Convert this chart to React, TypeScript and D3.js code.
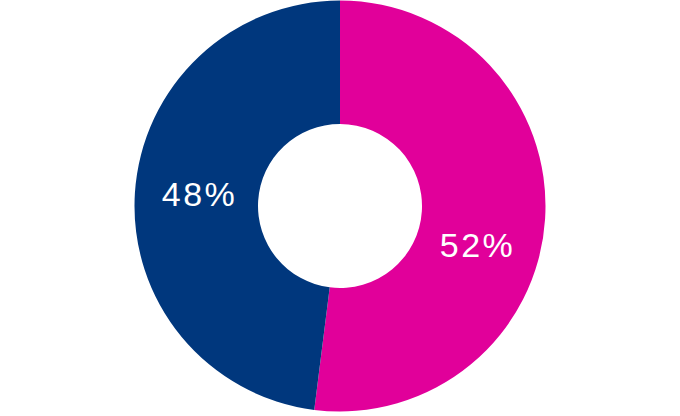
import React from "react";
import * as d3 from "d3";

const labels = ["52%", "48%"];
const values = [52, 48];
const colors = ["#e1009a", "#00377d"];
// where along each slice the label sits (0 = start, 1 = end)
const labelPos = [0.566, 0.508];

const W = 680;
const H = 416;

const DonutChart = () => {
  const cx = 340;
  const cy = 206;
  const outer = 205.5;
  const inner = 82;
  const labelR = 142;

  const pie = d3.pie<number>().sort(null).value((d) => d);
  const arcs = pie(values);
  const arc = d3.arc<d3.PieArcDatum<number>>().innerRadius(inner).outerRadius(outer);

  return (
    <svg width={W} height={H} style={{ display: "block" }}>
      <g transform={`translate(${cx},${cy})`}>
        {arcs.map((a, i) => (
          <path key={"s" + i} d={arc(a) || ""} fill={colors[i]} />
        ))}
        {arcs.map((a, i) => {
          const ang = a.startAngle + (a.endAngle - a.startAngle) * labelPos[i];
          const x = labelR * Math.sin(ang);
          const y = -labelR * Math.cos(ang);
          return (
            <text
              key={"t" + i}
              x={x + 1}
              y={y}
              textAnchor="middle"
              dominantBaseline="central"
              fill="#fff"
              fontFamily="'Liberation Sans', Arial, sans-serif"
              fontSize={34}
              letterSpacing={2.5}
            >
              {labels[i]}
            </text>
          );
        })}
      </g>
    </svg>
  );
};

export default function App() {
  return (
    <div style={{ position: "absolute", left: 0, top: 0 }}>
      <DonutChart />
    </div>
  );
}
